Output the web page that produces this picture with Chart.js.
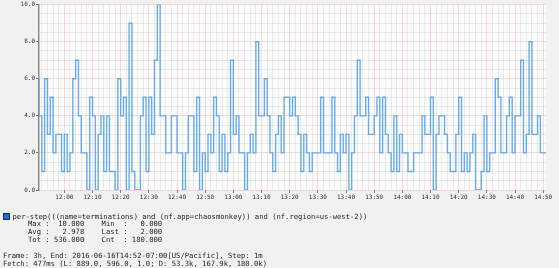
<!DOCTYPE html>
<html>
<head>
<meta charset="utf-8">
<script src="https://cdn.jsdelivr.net/npm/chart.js@4.4.1/dist/chart.umd.min.js"></script>
<style>
  html, body { margin: 0; padding: 0; background: #f1f1f1; }
  #wrap { position: relative; width: 559px; height: 268px; overflow: hidden; }
  #grafico { position: absolute; left: 0; top: 0; }
  .txt { position: absolute; font-family: 'DejaVu Sans Mono', monospace; font-size: 7.2px; color: #222; white-space: pre; }
  #cuadro { position: absolute; left: 3px; top: 213px; width: 5px; height: 5px; background: #1b6fd8; border: 1px solid #1a2a55; }
</style>
</head>
<body>
<div id="wrap">
  <canvas id="grafico" width="559" height="268"></canvas>
  <div id="cuadro"></div>
  <div class="txt" id="leyenda" style="left:12.5px; top:211.5px; line-height:9px;"></div>
  <div class="txt" id="stats" style="left:28px; top:220px; line-height:8px;"></div>
  <div class="txt" id="pie" style="left:3px; top:251.5px; line-height:8.5px;"></div>
</div>
<script>
// serie por minuto, desde 11:51
const inicio = '11:51';
const pasoMin = 1;
const valores = [
  6,4,1,6,3,5,2,3,3,1,3,1,2,6,7,4,2,2,0,5,4,0,3,
  4,1,4,1,1,0,6,4,5,0,9,1,0,0,4,5,1,5,3,7,10,4,4,2,2,4,4,2,2,0,
  2,4,4,1,5,0,2,1,3,2,5,4,1,3,1,2,7,3,4,2,2,0,2,3,2,8,4,4,6,4,2,1,3,4,2,5,5,4,
  5,4,3,1,3,2,1,2,2,2,5,2,2,2,5,2,1,3,2,3,0,2,4,
  7,4,4,5,3,3,4,5,2,5,3,2,1,4,1,3,2,2,1,1,2,2,
  2,4,3,3,5,0,3,4,4,3,2,1,1,3,5,1,2,1,2,3,
  0,0,1,4,1,2,2,6,5,2,2,4,5,2,4,4,7,2,3,8,3,3,4,2
];
const xTickLabels = ['12:00','12:10','12:20','12:30','12:40','12:50',
  '13:00','13:10','13:20','13:30','13:40','13:50',
  '14:00','14:10','14:20','14:30','14:40','14:50'];

const leyenda = 'per-step(((name=terminations) and (nf.app=chaosmonkey)) and (nf.region=us-west-2))';
const statNombres = ['Max ', 'Min  ', 'Avg ', 'Last ', 'Tot ', 'Cnt  '];
const statValores = ['10.000', '0.000', '2.978', '2.000', '536.000', '180.000'];
const pie = [
  'Frame: 3h, End: 2016-06-16T14:52-07:00[US/Pacific], Step: 1m',
  'Fetch: 477ms (L: 889.0, 596.0, 1.0; D: 53.3k, 167.9k, 180.0k)'
];

const colorMayor = 'rgba(236,160,160,0.38)';
const colorMenor = 'rgba(0,0,0,0.07)';
const fuente = { family: 'DejaVu Sans Mono', size: 6 };

const aMin = t => { const [h, m] = t.split(':').map(Number); return h * 60 + m; };
const base = aMin(inicio);
const puntos = valores.map((v, i) => ({ x: i * pasoMin, y: v }));
puntos.push({ x: valores.length * pasoMin, y: valores[valores.length - 1] });
const mayoresX = xTickLabels.map(t => aMin(t) - base);

const fondoPlot = {
    id: 'fondoPlot',
    beforeDraw(chart) {
        const { ctx, chartArea: a } = chart;
        ctx.save();
        ctx.fillStyle = '#fcfcfc';
        ctx.fillRect(a.left, a.top, a.right - a.left, a.bottom - a.top);
        ctx.restore();
    }
};

new Chart(document.getElementById('grafico'), {
    type: 'line',
    data: {
        datasets: [{
            data: puntos,
            stepped: 'after',
            borderColor: 'rgba(86,164,232,0.9)',
            borderWidth: 1.4,
            pointRadius: 0,
            fill: false
        }]
    },
    options: {
        responsive: false,
        animation: false,
        events: [],
        layout: { padding: { top: 4, right: 13, left: 0, bottom: 0 } },
        plugins: { legend: { display: false }, tooltip: { enabled: false } },
        scales: {
            x: {
                type: 'linear',
                min: 0,
                max: valores.length * pasoMin,
                afterFit: s => { s.height = 78; },
                afterBuildTicks: s => {
                    const t = [];
                    for (let k = 0; k <= valores.length; k++) if ((base + k) % 2 === 0) t.push({ value: k });
                    s.ticks = t;
                },
                border: { display: false },
                grid: {
                    color: c => mayoresX.includes(c.tick.value) ? colorMayor : colorMenor,
                    tickColor: c => mayoresX.includes(c.tick.value) ? '#777' : 'transparent',
                    tickLength: 3
                },
                ticks: {
                    autoSkip: false, maxRotation: 0, padding: 1, font: fuente, color: '#333',
                    callback: v => { const i = mayoresX.indexOf(v); return i >= 0 ? xTickLabels[i] : ''; }
                }
            },
            y: {
                min: 0,
                max: 10,
                afterFit: s => { s.width = 39; },
                border: { display: true, color: '#8a8a8a', width: 1.5 },
                grid: {
                    color: c => c.tick.value % 2 === 0 ? colorMayor : colorMenor,
                    tickColor: c => c.tick.value % 2 === 0 ? '#777' : 'transparent',
                    tickLength: 3
                },
                ticks: {
                    stepSize: 0.5, autoSkip: false, padding: 1, font: fuente, color: '#333',
                    callback: v => v % 2 === 0 ? v.toFixed(1) : ''
                }
            }
        }
    },
    plugins: [fondoPlot]
});

document.getElementById('leyenda').textContent = leyenda;
const filas = [];
for (let i = 0; i < statNombres.length; i += 2) {
    filas.push(statNombres[i] + ':' + statValores[i].padStart(8) + '    ' + statNombres[i + 1] + ':' + statValores[i + 1].padStart(8));
}
document.getElementById('stats').textContent = filas.join('\n');
document.getElementById('pie').textContent = pie.join('\n');
</script>
</body>
</html>
